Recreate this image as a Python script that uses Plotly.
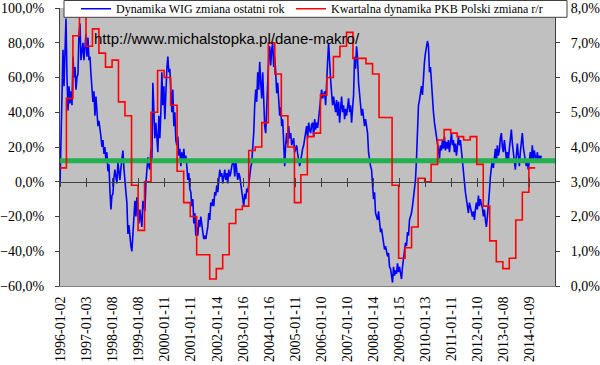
import pandas as pd
import plotly.graph_objects as go

# ---------------- data ----------------
# WIG year-on-year change (%), read every ~2 weeks from 1996-01-02
wig_start = "1996-01-02"
wig_yoy = [
    -2, 30, 50, 76, 55, 85, 94, 60, 41, 55, 45, 52, 44, 72, 60, 66, 53, 60, 62, 85,
    91, 70, 75, 80, 70, 78, 85, 72, 83, 70, 72, 62, 56, 46, 52, 38, 49, 40, 32, 35,
    28, 26, 20, 24, 16, 20, 12, 17, 6, 10, -5, -16, -8, -7, 2, 7, 3, -1, 11, 6,
    1, 8, 14, 18, 8, -1, -6, -12, -30, -25, -34, -37, -40, -32, -22, -11, -20, -9, -18, -24,
    -16, -22, -26, -11, -14, -17, -1, 5, 14, 9, 7, 19, 11, 57, 44, 25, 34, 25, 17, 38,
    25, 40, 63, 44, 55, 36, 59, 65, 72, 63, 65, 55, 40, 53, 32, 40, 24, 21, 26, 15,
    19, 9, 17, 11, 19, 11, 15, 9, 1, 5, -4, -6, -14, -10, -24, -18, -31, -26, -31, -22,
    -26, -20, -26, -29, -33, -31, -33, -29, -26, -18, -22, -12, -14, -10, -14, -6, -8, -2, -6, 1,
    7, 3, 5, -1, 3, 7, 1, 5, -1, 7, 3, 5, 9, 11, 11, 3, 12, 7, 1, 5,
    3, -1, -6, -12, -14, -7, -10, -4, -6, -2, 5, 8, 11, 19, 28, 44, 53, 46, 63, 53,
    69, 57, 48, 63, 44, 32, 28, 44, 63, 71, 78, 67, 76, 80, 66, 72, 63, 51, 57, 47,
    38, 43, 32, 36, 24, 9, 21, 28, 22, 32, 25, 28, 21, 24, 25, 17, 20, 21, 16, 13,
    9, 12, 17, 19, 21, 25, 28, 32, 25, 34, 30, 28, 33, 34, 26, 36, 30, 34, 31, 37,
    44, 48, 53, 48, 50, 52, 44, 63, 69, 80, 67, 59, 51, 44, 49, 42, 40, 47, 38, 46,
    34, 42, 49, 40, 44, 36, 42, 38, 44, 48, 40, 44, 34, 41, 50, 72, 65, 78, 71, 57,
    50, 44, 38, 42, 36, 32, 36, 30, 28, 17, 11, 9, 7, -2, -10, -6, -18, -20, -22, -17,
    -24, -29, -27, -33, -35, -39, -37, -40, -43, -41, -49, -50, -56, -58, -49, -54, -51, -53, -47, -52,
    -49, -53, -56, -49, -45, -41, -35, -37, -29, -31, -22, -20, -18, -14, -10, -3, 1, 13, 36, 44,
    47, 52, 55, 50, 63, 69, 74, 78, 81, 78, 63, 66, 55, 44, 40, 34, 28, 26, 22, 19,
    13, 21, 18, 24, 19, 26, 18, 23, 19, 24, 17, 22, 28, 21, 24, 17, 22, 15, 20, 26,
    21, 24, 18, 11, 5, -2, -6, -10, -14, -18, -12, -15, -17, -20, -17, -22, -16, -12, -16, -8,
    -14, -10, -13, -15, -20, -16, -22, -26, -20, -14, -6, 3, 7, 13, 8, 15, 19, 11, 21, 15,
    18, 25, 28, 20, 17, 24, 17, 13, 17, 12, 19, 26, 30, 22, 17, 11, 7, 15, 22, 15,
    9, 17, 25, 28, 20, 15, 12, 9, 12, 7, 11, 17, 12, 21, 13, 18, 14, 11, 17, 12,
    15, 13, 15,
]

# Quarterly GDP growth y/y (%), 1996Q1 .. 2014Q1
gdp_start = "1996-01-01"
gdp_end = "2014-03-31"
gdp_yoy = [
    3.4, 5.4, 7.2, 7.9,
    6.9, 7.4, 6.7, 6.3,
    6.5, 5.3, 4.9, 2.9,
    1.6, 3.0, 5.0, 6.2,
    6.0, 5.2, 3.3, 2.4,
    2.0, 0.9, 0.9, 0.2,
    0.5, 0.9, 1.8, 2.2,
    2.3, 3.9, 4.0, 4.7,
    7.0, 6.1, 4.9, 4.0,
    2.4, 3.2, 4.3, 4.4,
    5.5, 6.0, 6.6, 6.9,
    7.3, 6.55, 6.55, 6.4,
    6.1, 4.85, 4.85, 2.9,
    0.8, 1.1, 1.7, 3.1,
    3.0, 3.5, 4.2, 4.5,
    4.4, 4.3, 4.2, 4.3,
    3.5, 2.3, 1.3, 0.7,
    0.5, 0.8, 1.9, 2.7,
    3.4,
]

# average level line (%)
avg_level = 12.1
avg_span = ["1996-01-02", "2015-01-02"]

tick_dates = [
    "1996-01-02", "1997-01-03", "1998-01-08", "1999-01-08", "2000-01-11",
    "2001-01-11", "2002-01-14", "2003-01-16", "2004-01-16", "2005-01-11",
    "2006-01-10", "2007-01-10", "2008-01-14", "2009-01-15", "2010-01-13",
    "2011-01-11", "2012-01-10", "2013-01-08", "2014-01-09",
]
x_range = ["1996-01-02", "2015-01-02"]

name_wig = "Dynamika WIG zmiana ostatni rok"
name_gdp = "Kwartalna dynamika PKB Polski zmiana r/r"
url_text = "http://www.michalstopka.pl/dane-makro/"

# ---------------- build ----------------
wig_dates = pd.date_range(wig_start, periods=len(wig_yoy), freq="14D")
gdp_dates = list(pd.date_range(gdp_start, periods=len(gdp_yoy), freq="QS")) + [pd.Timestamp(gdp_end)]
gdp_vals = gdp_yoy + [gdp_yoy[-1]]

SERIF = "Liberation Serif, Times New Roman, serif"
AXC = "#404040"

fig = go.Figure()
fig.add_trace(go.Scatter(
    x=wig_dates, y=wig_yoy, mode="lines", name=name_wig,
    line=dict(color="#0000FF", width=1.6), xaxis="x", yaxis="y", legend="legend",
))
fig.add_trace(go.Scatter(
    x=gdp_dates, y=gdp_vals, mode="lines", name=name_gdp, line_shape="hv",
    line=dict(color="#FF0000", width=1.6), xaxis="x3", yaxis="y2", legend="legend2",
))
fig.add_trace(go.Scatter(
    x=avg_span, y=[avg_level, avg_level], mode="lines", showlegend=False,
    line=dict(color="#22B14C", width=5), xaxis="x2", yaxis="y",
))

T, B, L, R = 8, 79, 60, 45
W, H = 600, 365
PW, PH = W - L - R, H - T - B

def px_x(p):
    return (p - L) / PW

def px_y(p):
    return (H - B - p) / PH

zero_pos = (0 - (-60)) / 160.0
tickfont = dict(family=SERIF, size=14, color="black")

fig.update_layout(
    width=W, height=H,
    margin=dict(l=L, r=R, t=T, b=B, pad=0, autoexpand=False),
    paper_bgcolor="white", plot_bgcolor="#C0C0C0",
    separators=", ",
    font=dict(family=SERIF, size=14, color="black"),
    xaxis=dict(
        type="date", range=x_range, tickvals=tick_dates, ticktext=tick_dates,
        tickangle=-90, ticks="", showgrid=False, zeroline=False, automargin=False,
        showline=True, linecolor="#808080", linewidth=1,
        tickfont=tickfont, ticklabelstandoff=4,
    ),
    xaxis2=dict(
        type="date", range=x_range, overlaying="x", anchor="free", position=zero_pos,
        tickvals=tick_dates, showticklabels=False, ticks="outside", ticklen=4, automargin=False,
        tickcolor=AXC, showline=True, linecolor=AXC, linewidth=1, showgrid=False, zeroline=False,
    ),
    xaxis3=dict(
        type="date", range=x_range, overlaying="x", anchor="free", position=zero_pos,
        tickvals=tick_dates, showticklabels=False, ticks="inside", ticklen=4, automargin=False,
        tickcolor=AXC, showline=False, showgrid=False, zeroline=False,
    ),
    yaxis=dict(
        range=[-60, 100], dtick=20, tick0=0, tickformat=".1f", ticksuffix="%",
        showgrid=False, zeroline=False, showline=True, linecolor=AXC, linewidth=1,
        ticks="outside", ticklen=4, tickcolor=AXC, automargin=False,
        tickfont=tickfont, ticklabelstandoff=8,
    ),
    yaxis2=dict(
        range=[0, 8], dtick=1, tick0=0, tickformat=".1f", ticksuffix="%",
        overlaying="y", side="right", anchor="x", automargin=False,
        showgrid=False, zeroline=False, showline=True, linecolor=AXC, linewidth=1,
        ticks="outside", ticklen=4, tickcolor=AXC,
        tickfont=tickfont, ticklabelstandoff=8,
    ),
    legend=dict(
        orientation="h", x=px_x(76), y=px_y(8.7), xanchor="left", yanchor="middle",
        bgcolor="rgba(0,0,0,0)", borderwidth=0, font=dict(family=SERIF, size=12, color="black"),
    ),
    legend2=dict(
        orientation="h", x=px_x(291), y=px_y(8.7), xanchor="left", yanchor="middle",
        bgcolor="rgba(0,0,0,0)", borderwidth=0, font=dict(family=SERIF, size=12, color="black"),
    ),
    shapes=[dict(
        type="rect", xref="paper", yref="paper", layer="above",
        x0=px_x(64), x1=px_x(567), y0=px_y(17.3), y1=px_y(0.5),
        fillcolor="white", line=dict(color="#404040", width=1),
    )],
    annotations=[dict(
        text=url_text, xref="paper", yref="paper", x=px_x(92), y=px_y(38),
        xanchor="left", yanchor="middle", showarrow=False,
        font=dict(family="Liberation Sans", size=15, color="black"),
    )],
)

fig.write_html(
    "out.html",
    config={"displayModeBar": False},
    post_script="document.body.style.margin='0px';document.body.style.overflow='hidden';",
)
